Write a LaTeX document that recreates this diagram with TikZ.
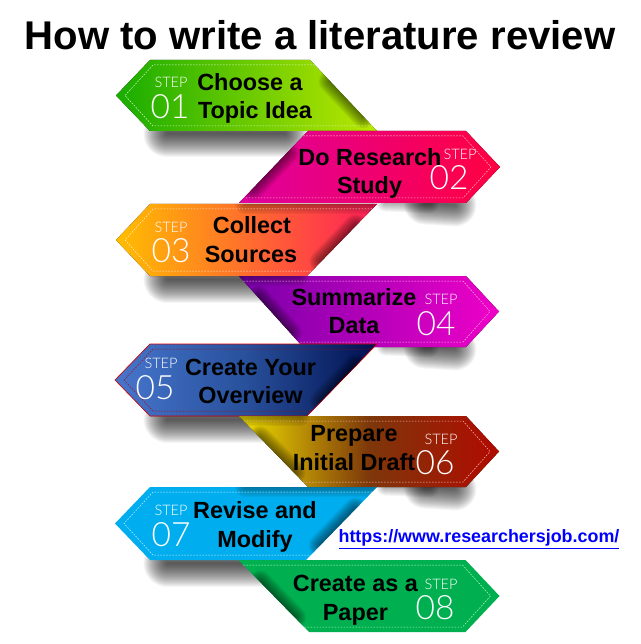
\documentclass[tikz,border=0pt]{standalone}
\usepackage{fontspec}
\setmainfont{Liberation Sans}
\newfontfamily\thinface{Lato Light}
\tikzset{
  x=1pt,y=-1pt,
  title/.style={font=\bfseries\fontsize{40.1}{40}\selectfont,text=black,anchor=base,inner sep=0pt},
  lbl/.style={font=\bfseries\fontsize{23.4}{24}\selectfont,text=black,anchor=base,inner sep=0pt,yshift=-8.4pt},
  steplbl/.style={font=\thinface\fontsize{14.5}{15}\selectfont,text=white,anchor=base,inner sep=0pt,yshift=-5.2pt},
  numlbl/.style={font=\thinface\fontsize{33.5}{35}\selectfont,text=white,anchor=base,inner sep=0pt,yshift=-12.5pt},
  urllbl/.style={font=\bfseries\fontsize{17.9}{19}\selectfont,text={rgb,255:red,0;green,0;blue,255},anchor=base,inner sep=0pt,yshift=-6.6pt},
}
% ribbon: ytop, ybot, tip x, body x, diagonal x at top, diagonal x at bottom, dash colour, fill options, extra shading
\newcommand\ribbon[9]{%
  \pgfmathsetmacro\ymid{(#1+#2)/2}%
  \pgfmathsetmacro\sgn{(#4>#3)?1:-1}%
  \fill[#8] (#3,\ymid) -- (#4,#1) -- (#5,#1) -- (#6,#2) -- (#4,#2) -- cycle;
  \begin{scope}
    \clip (#3,\ymid) -- (#4,#1) -- (#5,#1) -- (#6,#2) -- (#4,#2) -- cycle;
    \pgfmathsetmacro\fax{#5+0.30*(#6-#5)}\pgfmathsetmacro\fay{#1+0.30*(#2-#1)}%
    \pgfmathsetmacro\fbx{#5+0.80*(#6-#5)}\pgfmathsetmacro\fby{#1+0.80*(#2-#1)}%
    \foreach \w in {1,3,...,23}{
      \draw[black,opacity=.05,line width=\w pt,line cap=round] (\fax,\fay) -- (\fbx,\fby);
    }
    #9
  \end{scope}
  \pgfmathsetmacro\dtx{#5+0.07*(#6-#5)}\pgfmathsetmacro\dbx{#5+0.93*(#6-#5)}%
  \pgfmathsetmacro\ya{#1+5}\pgfmathsetmacro\yb{#2-5}%
  \pgfmathsetmacro\tipd{#3+9*\sgn}\pgfmathsetmacro\bdy{#4+3*\sgn}%
  \draw[#7,line width=.5pt,dash pattern=on 1.6pt off 1.4pt]
    (\dtx,\ya) -- (\bdy,\ya) -- (\tipd,\ymid) -- (\bdy,\yb) -- (\dbx,\yb);
}
% soft shadows: a line blurred by many faint stacked strokes
\newcommand\softshadowL[1]{%
  \foreach \w in {1,3,...,47}{
    \draw[black,opacity=.04,line width=\w pt,line cap=round] (167,#1) -- (285,#1);
  }
}
\newcommand\softshadowR[1]{%
  \foreach \w in {1,3,...,43}{
    \draw[black,opacity=.04,line width=\w pt,line cap=round] (425,#1) -- (455,#1+2);
  }
  \foreach \w in {1,3,...,17}{
    \draw[black,opacity=.04,line width=\w pt,line cap=round] (385,#1) -- (430,#1+2);
  }
}
\newcommand\topshade[3]{%
  \foreach \w in {2,5,...,20}{
    \draw[black,opacity=.05,line width=\w pt,line cap=round] (#1,#3) -- (#2,#3);
  }
}
\begin{document}
\begin{tikzpicture}
\useasboundingbox (0,0) rectangle (640,644);
\fill[white] (0,0) rectangle (640,644);
\node[title] (t) at (320,50) {How to write a literature review};

% 1
\softshadowL{134}
\ribbon{60}{131}{116}{150}{310}{377}{white!85!green}{left color={rgb,255:red,24;green,172;blue,0},right color={rgb,255:red,188;green,232;blue,0}}{}
% 2
\softshadowR{203}
\ribbon{131}{203}{500}{466}{308}{239}{white!80!red}{left color={rgb,255:red,222;green,0;blue,160},right color={rgb,255:red,255;green,0;blue,64}}{}
% 3
\softshadowL{279}
\ribbon{204}{276}{116}{150}{377}{307}{white!85!orange}{left color={rgb,255:red,255;green,190;blue,0},right color={rgb,255:red,255;green,30;blue,90}}{\topshade{245}{372}{204}}
% 4
\softshadowR{347}
\ribbon{276}{347}{499}{466}{239}{303}{white!75!magenta}{left color={rgb,255:red,120;green,0;blue,170},right color={rgb,255:red,240;green,0;blue,200}}{\topshade{240}{300}{276}}
% 5
\softshadowL{419}
\ribbon{344}{416}{115}{150}{377}{307}{red!75!black}{draw=red!85!black,line width=.6pt,left color={rgb,255:red,70;green,118;blue,205},right color={rgb,255:red,0;green,16;blue,80},middle color={rgb,255:red,40;green,80;blue,155}}{}
% 6
\softshadowR{487}
\ribbon{416}{487}{499}{466}{239}{308}{white!75!red}{left color={rgb,255:red,240;green,225;blue,0},right color={rgb,255:red,178;green,10;blue,0},middle color={rgb,255:red,125;green,55;blue,10}}{\topshade{240}{300}{416}}
% 7
\softshadowL{563}
\ribbon{487}{560}{115}{150}{377}{306}{white!80!cyan}{fill={rgb,255:red,0;green,174;blue,239}}{\topshade{245}{372}{487}}
% 8
\ribbon{560}{632}{499.5}{465.5}{238.5}{309}{white!75!green}{fill={rgb,255:red,0;green,176;blue,80}}{}

% texts
\node[lbl] (a1) at (250,82) {Choose a};
\node[lbl] (b1) at (255,110) {Topic Idea};
\node[steplbl] (s1) at (171,82) {STEP};
\node[numlbl] (n1) at (170,106) {01};

\node[lbl] (a2) at (370,157) {Do Research};
\node[lbl] (b2) at (369.5,185) {Study};
\node[steplbl] (s2) at (460,154) {STEP};
\node[numlbl] (n2) at (449,177) {02};

\node[lbl] (a3) at (252,225) {Collect};
\node[lbl] (b3) at (251,254) {Sources};
\node[steplbl] (s3) at (171,227) {STEP};
\node[numlbl] (n3) at (171,250) {03};

\node[lbl] (a4) at (354,297) {Summarize};
\node[lbl] (b4) at (354,325) {Data};
\node[steplbl] (s4) at (441,299) {STEP};
\node[numlbl] (n4) at (436,323) {04};

\node[lbl] (a5) at (250.5,367) {Create Your};
\node[lbl] (b5) at (250.5,395) {Overview};
\node[steplbl] (s5) at (161,363) {STEP};
\node[numlbl] (n5) at (155,387) {05};

\node[lbl] (a6) at (354,433) {Prepare};
\node[lbl] (b6) at (354,462) {Initial Draft};
\node[steplbl] (s6) at (441,439) {STEP};
\node[numlbl] (n6) at (435,462) {06};

\node[lbl] (a7) at (255,510) {Revise and};
\node[lbl] (b7) at (255,539) {Modify};
\node[steplbl] (s7) at (171,510.5) {STEP};
\node[numlbl] (n7) at (171,534) {07};

\node[lbl] (a8) at (355.4,583) {Create as a};
\node[lbl] (b8) at (355.4,612) {Paper};
\node[steplbl] (s8) at (441,584) {STEP};
\node[numlbl] (n8) at (435,607) {08};

\node[urllbl] (u) at (479,536) {\underline{https://www.researchersjob.com/}};
\end{tikzpicture}
\end{document}
